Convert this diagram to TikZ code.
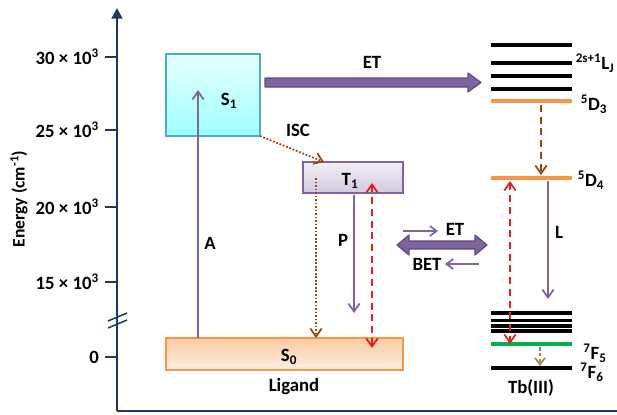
\documentclass[tikz,border=0pt]{standalone}
\usepackage{fontspec}
\setmainfont{Carlito}
\usetikzlibrary{arrows.meta}

\definecolor{axisblue}{HTML}{1F3864}
\definecolor{violet}{HTML}{8064A2}
\definecolor{violetdark}{HTML}{5F497A}
\definecolor{rust}{HTML}{984807}
\definecolor{tomato}{HTML}{E3211C}
\definecolor{olive}{HTML}{948A54}
\definecolor{tangerine}{HTML}{F79646}
\definecolor{leaf}{HTML}{00B050}
\definecolor{aqua}{HTML}{4BACC6}

\tikzset{
  axisline/.style={draw=axisblue, line width=2.4pt},
  tickline/.style={draw=axisblue, line width=2pt},
  ticklabel/.style={anchor=east, inner sep=0pt},
  statebox/.style={draw, line width=1pt, inner sep=0pt},
  level/.style={line width=3pt},
  thinarrow/.style={line width=1.5pt, -{Straight Barb[length=2.4mm,width=3.4mm,line width=1.5pt]}},
  twoway/.style={line width=1.5pt, {Straight Barb[length=2.4mm,width=3.4mm,line width=1.5pt]}-{Straight Barb[length=2.4mm,width=3.4mm,line width=1.5pt]}},
  dotarrow/.style={thinarrow, draw=rust, dash pattern=on 1.5pt off 1.5pt},
  dasharrow/.style={dash pattern=on 6pt off 4pt},
  blockarrow/.style={fill=violet, draw=violetdark, line width=1pt, line join=round},
  txt/.style={inner sep=0pt}
}

\begin{document}
\begin{tikzpicture}[x=0.03cm, y=-0.03cm, font=\fontsize{16}{19}\selectfont\bfseries]
\useasboundingbox (0,0) rectangle (617,414);

% axes
\coordinate (orig) at (117,411);
\coordinate (ytop) at (117,8);
\coordinate (xend) at (617,411);
\draw[axisline, -{Triangle[length=3.2mm,width=3.2mm]}] (orig) -- (ytop);
\draw[axisline] (orig) -- (xend);

% ticks and their labels
\foreach \yy/\lab in {57/{30 × 10\textsuperscript{3}}, 130/{25 × 10\textsuperscript{3}},
                      207/{20 × 10\textsuperscript{3}}, 282/{15 × 10\textsuperscript{3}}, 357/{0}} {
  \draw[tickline] (105,\yy) -- (117,\yy);
  \node[ticklabel] at (99,\yy) {\lab};
}
% axis break
\draw[draw=axisblue, line width=1.3pt] (108,321) -- (127,313);
\draw[draw=axisblue, line width=1.3pt] (108,328) -- (127,320);

\node[txt, rotate=90, font=\fontsize{15}{18}\selectfont\bfseries] (elabel) at (19,199) {Energy (cm\textsuperscript{-1})};

% ligand states
\node[statebox, draw=aqua, top color=cyan!10, bottom color=cyan!38,
      minimum width=2.82cm, minimum height=2.46cm] (S1) at (213,95) {};
\node[txt] (S1t) at (229,101) {S\textsubscript{1}};

\node[statebox, draw=violet, top color=violet!10, bottom color=violet!35,
      minimum width=3.0cm, minimum height=0.93cm] (T1) at (353,177.5) {};
\node[txt] (T1t) at (350,181) {T\textsubscript{1}};

\node[statebox, draw=tangerine, top color=tangerine!50, bottom color=tangerine!15,
      minimum width=7.11cm, minimum height=0.96cm] (S0) at (284.5,354) {};
\node[txt] (S0t) at (289,357) {S\textsubscript{0}};
\node[txt] (lig) at (294,387) {Ligand};

% ligand transitions
\coordinate (aS) at (198,338);
\coordinate (aE) at (198,90);
\draw[thinarrow, draw=violet] (aS) -- (aE);
\node[txt] (A) at (210,243) {A};

\coordinate (iscS) at (260,136);
\coordinate (iscE) at (324,162);
\draw[dotarrow] (iscS) -- (iscE);
\node[txt] (ISC) at (298,130) {ISC};

\coordinate (nrS) at (316,178);
\coordinate (nrE) at (316,338);
\draw[dotarrow] (nrS) -- (nrE);

\coordinate (pS) at (354,195);
\coordinate (pE) at (354,313);
\draw[thinarrow, draw=violet] (pS) -- (pE);
\node[txt] (P) at (343,240) {P};

\coordinate (rT) at (372,183);
\coordinate (rB) at (372,348);
\draw[twoway, draw=tomato, dasharrow] (rT) -- (rB);

% energy transfer block arrows
\draw[blockarrow] (265,78) -- (468,78) -- (468,73) -- (481,82.5) -- (468,92)
                  -- (468,87) -- (265,87) -- cycle;
\node[txt] (ETtop) at (372,62) {ET};

\draw[blockarrow] (397,245) -- (409,235) -- (409,241) -- (475,241) -- (475,235)
                  -- (487,245) -- (475,255) -- (475,249) -- (409,249) -- (409,255) -- cycle;

\coordinate (etS) at (403,231);
\coordinate (etE) at (438,231);
\draw[line width=1.5pt, draw=violet, -{Straight Barb[length=2mm,width=3mm,line width=1.5pt]}] (etS) -- (etE);
\node[txt] (ETmid) at (455,229) {ET};

\coordinate (betS) at (479,264);
\coordinate (betE) at (445,264);
\draw[line width=1.5pt, draw=violet, -{Straight Barb[length=2mm,width=3mm,line width=1.5pt]}] (betS) -- (betE);
\node[txt] (BET) at (427,264) {BET};

% Tb(III) levels
\foreach \yy in {45,63,76,89,313,320.5,326,331,368}
  \draw[level, draw=black] (491,\yy) -- (572,\yy);
\draw[level, draw=tangerine] (491,101) -- (572,101);
\draw[level, draw=tangerine] (491,178) -- (572,178);
\draw[level, draw=leaf] (491,344) -- (572,344);

\node[txt] (LJ) at (595,63) {\textsuperscript{2s+1}L\textsubscript{J}};
\node[txt] (D3) at (594,104) {\textsuperscript{5}D\textsubscript{3}};
\node[txt] (D4) at (591,180) {\textsuperscript{5}D\textsubscript{4}};
\node[txt] (F5) at (595,353) {\textsuperscript{7}F\textsubscript{5}};
\node[txt] (F6) at (592,372) {\textsuperscript{7}F\textsubscript{6}};
\node[txt] (Tb) at (531,388) {Tb(III)};

% Tb(III) transitions
\coordinate (d3a) at (541,105);
\coordinate (d4a) at (541,175);
\draw[thinarrow, draw=rust, dasharrow] (d3a) -- (d4a);

\coordinate (lS) at (548,181);
\coordinate (lE) at (548,299);
\draw[thinarrow, draw=violet] (lS) -- (lE);
\node[txt] (L) at (559,232) {L};

\coordinate (tT) at (510,181);
\coordinate (tB) at (510,344);
\draw[twoway, draw=tomato, dasharrow] (tT) -- (tB);

\coordinate (f5a) at (540,347);
\coordinate (f6a) at (540,366);
\draw[line width=1.5pt, draw=olive, dash pattern=on 3pt off 2pt,
      -{Straight Barb[length=2mm,width=3mm,line width=1.5pt]}] (f5a) -- (f6a);
\end{tikzpicture}
\end{document}
